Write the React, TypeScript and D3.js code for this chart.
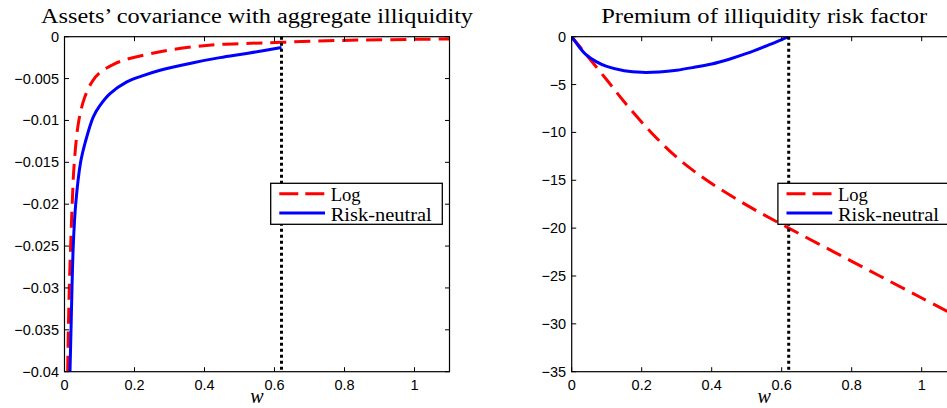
import React from 'react';
import * as d3 from 'd3';

// x axis (w) shared by both panels
const xTicks = [0, 0.2, 0.4, 0.6, 0.8, 1];
const xTickLabels = ['0', '0.2', '0.4', '0.6', '0.8', '1'];
const wStar = 0.62;

// left panel: covariance with aggregate illiquidity
const covTicks = [0, -0.005, -0.01, -0.015, -0.02, -0.025, -0.03, -0.035, -0.04];
const covTickLabels = ['0', '\u22120.005', '\u22120.01', '\u22120.015', '\u22120.02', '\u22120.025', '\u22120.03', '\u22120.035', '\u22120.04'];
const covLogW = [0.009, 0.011, 0.0137, 0.0175, 0.022, 0.028, 0.041, 0.058, 0.08, 0.101, 0.14, 0.178, 0.273, 0.368, 0.435, 0.52, 0.62, 0.75, 0.9, 1.1];
const covLog = [-0.04, -0.035, -0.03, -0.025, -0.02, -0.015, -0.01, -0.0072, -0.0053, -0.0043, -0.0033, -0.0027, -0.0018, -0.0012, -0.00095, -0.0008, -0.00067, -0.00048, -0.00037, -0.00027];
const covRnW = [0.0157, 0.0186, 0.0214, 0.025, 0.032, 0.046, 0.06, 0.082, 0.1, 0.13, 0.178, 0.22, 0.273, 0.368, 0.444, 0.52, 0.62];
const covRn = [-0.04, -0.035, -0.03, -0.025, -0.02, -0.015, -0.0125, -0.0096, -0.0083, -0.0068, -0.0054, -0.0047, -0.004, -0.0031, -0.0025, -0.002, -0.0013];

// right panel: premium of illiquidity risk factor
const premTicks = [0, -5, -10, -15, -20, -25, -30, -35];
const premTickLabels = ['0', '\u22125', '\u221210', '\u221215', '\u221220', '\u221225', '\u221230', '\u221235'];
const premLogW = [0, 0.04, 0.1, 0.15, 0.227, 0.3, 0.386, 0.5, 0.62, 0.75, 0.88, 1.0, 1.1];
const premLog = [0, -1.8, -4.5, -6.8, -10, -12.6, -15, -17.6, -20, -22.5, -25, -27.3, -29.2];
const premRnW = [0, 0.02, 0.04, 0.07, 0.1, 0.15, 0.2, 0.25, 0.3, 0.35, 0.4, 0.45, 0.5, 0.55, 0.6, 0.62];
const premRn = [0, -1.0, -1.85, -2.6, -3.1, -3.55, -3.72, -3.68, -3.5, -3.2, -2.85, -2.35, -1.75, -1.05, -0.3, 0];

const serif = '"Liberation Serif", "Times New Roman", serif';
const sans = '"Liberation Sans", Arial, sans-serif';

interface Series {
  w: number[];
  v: number[];
  color: string;
  dash?: string;
}

interface PanelProps {
  id: string;
  left: number;
  title: string;
  titleWidth: number;
  yDomain: [number, number];
  yTicks: number[];
  yLabels: string[];
  series: Series[];
}

const top = 36.7;
const bottom = 371.7;
const plotW = 385;

const Panel: React.FC<PanelProps> = ({ id, left, title, titleWidth, yDomain, yTicks, yLabels, series }) => {
  const x = d3.scaleLinear().domain([0, 1.1]).range([left, left + plotW]);
  const y = d3.scaleLinear().domain(yDomain).range([bottom, top]);
  const line = d3.line<[number, number]>()
    .x(d => x(d[0]))
    .y(d => y(d[1]))
    .curve(d3.curveCatmullRom.alpha(0.5));
  const right = left + plotW;
  const cx = left + plotW / 2;
  const tl = 4.5;
  // legend sits near the right edge, about mid height
  const lgX = right - 178.8;
  const lgY = 183.3;

  return (
    <g>
      <defs>
        <clipPath id={id}>
          <rect x={left} y={top} width={plotW} height={bottom - top} />
        </clipPath>
      </defs>
      <text x={cx - titleWidth / 2} y={22.7} fontFamily={serif} fontSize={20}
        textLength={titleWidth} lengthAdjust="spacingAndGlyphs">{title}</text>

      <g clipPath={`url(#${id})`}>
        {series.map((s, i) => (
          <path key={i} d={line(s.w.map((w, j) => [w, s.v[j]] as [number, number])) || ''}
            fill="none" stroke={s.color} strokeWidth={3} strokeDasharray={s.dash} />
        ))}
        <line x1={x(wStar)} x2={x(wStar)} y1={top} y2={bottom}
          stroke="#000" strokeWidth={3} strokeDasharray="3,3" />
      </g>

      {/* axes box */}
      <rect x={left} y={top} width={plotW} height={bottom - top} fill="none" stroke="#000" strokeWidth={1.2} />

      {xTicks.map((t, i) => (
        <g key={'x' + i}>
          <line x1={x(t)} x2={x(t)} y1={bottom} y2={bottom - tl} stroke="#000" strokeWidth={1} />
          <line x1={x(t)} x2={x(t)} y1={top} y2={top + tl} stroke="#000" strokeWidth={1} />
          <text x={x(t)} y={390} textAnchor="middle" fontFamily={sans} fontSize={14.5}>{xTickLabels[i]}</text>
        </g>
      ))}
      {yTicks.map((t, i) => (
        <g key={'y' + i}>
          <line x1={left} x2={left + tl} y1={y(t)} y2={y(t)} stroke="#000" strokeWidth={1} />
          <line x1={right} x2={right - tl} y1={y(t)} y2={y(t)} stroke="#000" strokeWidth={1} />
          <text x={left - 5.5} y={y(t) + 5} textAnchor="end" fontFamily={sans} fontSize={14.5}>{yLabels[i]}</text>
        </g>
      ))}
      <text x={cx} y={403} textAnchor="middle" fontFamily={serif} fontStyle="italic" fontSize={20}>w</text>

      {/* legend */}
      <rect x={lgX} y={lgY} width={171.6} height={41} fill="#fff" stroke="#000" strokeWidth={1.3} />
      <line x1={lgX + 8.6} x2={lgX + 54.3} y1={lgY + 10.4} y2={lgY + 10.4}
        stroke={series[0].color} strokeWidth={3} strokeDasharray="19,7" />
      <line x1={lgX + 8.6} x2={lgX + 54.3} y1={lgY + 29.7} y2={lgY + 29.7}
        stroke={series[1].color} strokeWidth={3} />
      <text x={lgX + 60} y={lgY + 17.4} fontFamily={serif} fontSize={19}
        textLength={30} lengthAdjust="spacingAndGlyphs">Log</text>
      <text x={lgX + 60} y={lgY + 38} fontFamily={serif} fontSize={19}
        textLength={101} lengthAdjust="spacingAndGlyphs">Risk-neutral</text>
    </g>
  );
};

const App: React.FC = () => {
  return (
    <div style={{ position: 'fixed', left: 0, top: 0, width: 947, height: 408, background: '#fff' }}>
      <svg width={947} height={408} style={{ display: 'block' }}>
        <rect width={947} height={408} fill="#fff" />
        <Panel
          id="clipCov"
          left={64.5}
          title={'Assets\u2019 covariance with aggregate illiquidity'}
          titleWidth={432}
          yDomain={[-0.04, 0]}
          yTicks={covTicks}
          yLabels={covTickLabels}
          series={[
            { w: covLogW, v: covLog, color: '#ff0000', dash: '16,8' },
            { w: covRnW, v: covRn, color: '#0000ff' }
          ]}
        />
        <Panel
          id="clipPrem"
          left={571.7}
          title="Premium of illiquidity risk factor"
          titleWidth={326}
          yDomain={[-35, 0]}
          yTicks={premTicks}
          yLabels={premTickLabels}
          series={[
            { w: premLogW, v: premLog, color: '#ff0000', dash: '16,8' },
            { w: premRnW, v: premRn, color: '#0000ff' }
          ]}
        />
      </svg>
    </div>
  );
};

export default App;
